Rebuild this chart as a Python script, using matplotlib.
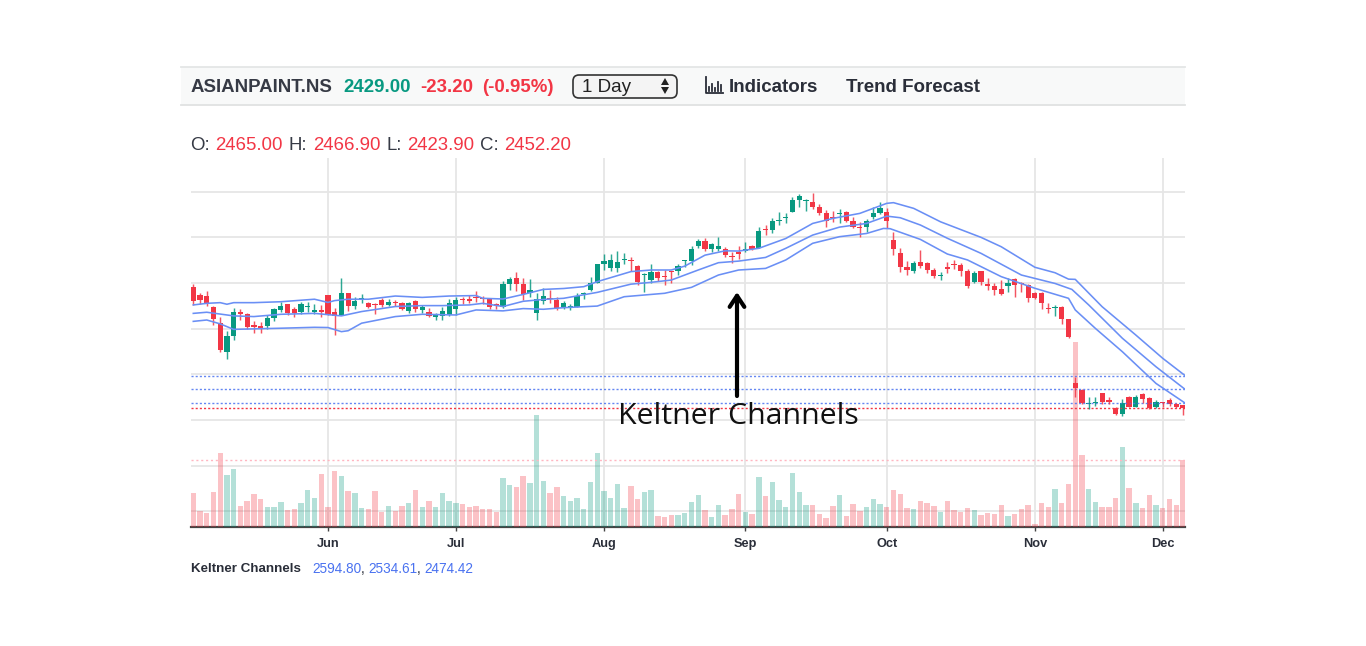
import matplotlib
matplotlib.use("Agg")
import matplotlib.pyplot as plt
from matplotlib.patches import FancyBboxPatch, Polygon, Rectangle

# ---------- data ----------
opens = [2981,2948,2945,2897,2827,2697,2768,2875,2863,2816,2812,2812,2848,2882,2908,2885,2872,2894,2872,2879,
         2948,2875,2860,2958,2899,2929,2911,2907,2926,2904,2918,2914,2879,2923,2882,2872,2853,2857,2860,2885,
         2929,2929,2937,2933,2929,2904,2894,2996,3021,2995,2955,2870,2922,2933,2925,2896,2889,2896,2950,2969,
         3001,3082,3064,3064,3101,3101,3076,3036,3013,3050,3031,3051,3051,3095,3096,3160,3185,3150,3150,3147,
         3118,3134,3141,3160,3152,3236,3232,3271,3286,3309,3363,3360,3356,3331,3308,3290,3301,3312,3273,3247,
         3244,3287,3305,3312,3188,3130,3071,3054,3093,3086,3057,3031,3071,3083,3079,3054,3003,3051,2995,2987,
         2974,2987,3016,3001,2991,2955,2958,2892,2892,2896,2841,2560,2531,2471,2476,2517,2487,2451,2426,2502,
         2458,2512,2498,2455,2477,2487,2470,2465]
highs = [2996,2958,2967,2899,2853,2791,2889,2885,2870,2835,2831,2860,2892,2916,2908,2897,2916,2918,2908,2904,
         2948,2889,3024,2958,2940,2951,2918,2914,2933,2929,2926,2918,2918,2926,2904,2889,2870,2897,2929,2937,
         2937,2948,2967,2943,2933,2911,3010,3025,3047,3020,3016,2955,2977,2969,2940,2922,2908,2958,2962,3028,
         3083,3125,3127,3141,3130,3115,3079,3042,3082,3052,3057,3054,3083,3103,3163,3193,3195,3177,3203,3159,
         3137,3163,3181,3166,3244,3254,3283,3309,3305,3378,3388,3366,3393,3346,3320,3317,3323,3317,3290,3269,
         3279,3331,3353,3327,3225,3152,3098,3098,3144,3093,3064,3050,3093,3101,3086,3060,3052,3054,3020,3001,
         3013,3020,3020,3006,2995,2962,2962,2914,2903,2899,2842,2590,2534,2502,2499,2517,2499,2458,2490,2505,
         2509,2517,2502,2487,2480,2495,2473,2467]
lows = [2904,2908,2901,2816,2699,2667,2751,2838,2797,2783,2783,2799,2834,2872,2860,2853,2863,2875,2864,2853,
        2860,2772,2860,2878,2885,2911,2889,2863,2897,2899,2899,2882,2870,2875,2867,2850,2838,2838,2857,2860,
        2908,2911,2918,2907,2886,2885,2889,2970,2967,2925,2937,2838,2908,2914,2882,2885,2882,2893,2928,2966,
        2998,3057,3054,3050,3083,3054,2990,2962,2998,3009,2991,3001,3035,3071,3079,3152,3141,3137,3141,3112,
        3089,3105,3137,3144,3152,3210,3220,3254,3261,3309,3334,3317,3324,3296,3247,3269,3261,3269,3239,3203,
        3225,3279,3301,3239,3121,3050,3035,3042,3064,3042,3020,3013,3042,3060,3031,2977,2998,2991,2969,2947,
        2947,2959,2937,2962,2915,2928,2885,2867,2855,2820,2760,2499,2470,2449,2461,2470,2470,2422,2417,2455,
        2455,2476,2448,2451,2458,2461,2451,2424]
closes = [2923,2926,2908,2841,2707,2768,2875,2863,2809,2809,2803,2845,2885,2901,2867,2867,2908,2897,2882,2875,
          2860,2857,2958,2899,2923,2933,2897,2904,2904,2918,2914,2886,2914,2885,2894,2856,2856,2879,2914,2926,
          2926,2923,2933,2930,2897,2901,2994,3018,2996,2952,2969,2928,2943,2928,2890,2911,2899,2943,2955,3001,
          3082,3096,3103,3090,3103,3096,3004,3041,3050,3020,3025,3047,3074,3101,3149,3184,3149,3169,3163,3121,
          3114,3128,3149,3149,3229,3232,3273,3276,3290,3363,3381,3363,3331,3308,3273,3285,3305,3273,3247,3242,
          3273,3305,3327,3273,3147,3068,3057,3086,3074,3055,3031,3035,3063,3077,3054,2987,3045,3006,2987,2969,
          2952,2998,2993,2995,2933,2933,2914,2885,2896,2841,2765,2539,2473,2476,2480,2480,2479,2425,2473,2458,
          2502,2490,2451,2477,2474,2468,2455,2452]
volumes = [101,49,41,104,223,156,173,63,79,98,84,60,60,76,50,53,71,111,86,159,
           61,169,153,108,101,57,54,108,46,63,48,64,71,110,59,77,61,103,78,71,
           68,60,62,54,53,46,146,125,120,153,132,337,137,102,121,94,78,87,55,135,
           223,107,86,129,57,122,83,106,110,33,31,35,36,43,75,97,50,31,65,36,
           55,99,46,38,151,94,135,81,60,161,105,67,65,38,27,62,96,34,69,48,
           61,83,70,61,111,99,58,53,78,73,63,46,78,50,45,58,51,36,41,38,
           66,32,39,53,66,9,73,60,114,72,129,555,217,114,76,59,59,87,239,118,
           73,57,96,66,58,85,65,201]

upper_idx = [0,2,4,5,6,9,13,18,20,21,23,26,30,34,38,42,43,46,49,52,55,58,59,60,65,68,71,73,76,79,81,84,88,92,95,
             99,101,103,104,107,111,117,120,125,128,130,131,135,140,144,147.3]
upper_val = [2904,2911,2914,2907,2914,2914,2918,2929,2915,2923,2929,2929,2943,2937,2943,2945,2933,2930,2950,2972,2976,2984,2995,3006,3050,3057,3057,3074,3122,3141,3140,3152,3195,3261,3283,
             3305,3327,3349,3352,3327,3268,3200,3159,3069,3045,3017,3016,2896,2772,2670,2594.8]
mid_idx = [0,2,4,6,9,13,18,22,25,30,34,37,41,43,46,49,52,55,60,65,68,71,75,78,81,85,88,92,96,100,103,105,108,112,117,123,128,130.5,133,138,143,147.3]
mid_val = [2867,2872,2864,2856,2853,2863,2867,2856,2875,2897,2901,2901,2904,2911,2897,2920,2928,2933,2959,2995,3003,3013,3057,3089,3096,3112,3152,3210,3245,3261,3293,3286,3254,3196,3130,3035,2998,2972,2904,2758,2633,2534.61]
lower_idx = [0,2,4,6,13,18,20,22,23,25,30,34,39,42,46,49,52,55,60,64,70,74,78,81,85,88,92,96,100,102.5,103.5,108,112,115,120,125,130,131,134,138,143,147.3]
lower_val = [2832,2838,2821,2797,2802,2806,2805,2787,2791,2824,2853,2863,2860,2882,2878,2888,2885,2892,2899,2940,2955,2981,3035,3057,3064,3101,3174,3203,3217,3239,3238,3191,3127,3101,3028,2977,2933,2882,2801,2699,2560,2474.42]

month_ticks = [20, 39, 61, 82, 103, 125, 144]
month_labels = ["Jun", "Jul", "Aug", "Sep", "Oct", "Nov", "Dec"]
price_grid = [2000, 2200, 2400, 2600, 2800, 3000, 3200, 3400]
channel_last = [2594.80, 2534.61, 2474.42]
last_close = 2452.20
volume_avg = 201

# ---------- styles ----------
W, H = 1366, 646
GREEN, RED, BLUE = "#089981", "#f23645", "#6a8ff5"
GRID = "#e6e6e6"
DARK = "#2a2e39"
SANS = "Liberation Sans"

fig = plt.figure(figsize=(W / 100, H / 100), dpi=100, facecolor="white")
pos = [191 / W, 1 - 527 / H, (1185 - 191) / W, (527 - 158) / H]
xlim = (-0.34, 147.3)
ylim = (1931.3, 3547.6)

def layer(z):
    a = fig.add_axes(pos, zorder=z)
    a.set_xlim(xlim)
    a.patch.set_visible(False)
    a.set_yticks([])
    for s in a.spines.values():
        s.set_visible(False)
    return a

ax_grid = layer(1)
ax_grid.set_ylim(ylim)
for p in price_grid:
    ax_grid.axhline(p, color=GRID, lw=1.3)
for m in month_ticks:
    ax_grid.axvline(m, color=GRID, lw=1.3)
ax_grid.set_xticks(month_ticks, month_labels, fontfamily=SANS, fontsize=9.2, fontweight="bold", color=DARK)
ax_grid.tick_params(axis="x", length=3, width=1, color="#444444", pad=9.5)
for t in ax_grid.get_xticklabels():
    t.set_verticalalignment("center")
ax_grid.spines["bottom"].set_visible(True)
ax_grid.spines["bottom"].set_color("#444444")
ax_grid.spines["bottom"].set_linewidth(1.6)

ax_vol = layer(2)
ax_vol.set_ylim(0, 1107)
ax_vol.set_xticks([])
x = list(range(len(opens)))
vol_colors = [GREEN if c > o else RED for o, c in zip(opens, closes)]
ax_vol.bar(x, volumes, width=0.8, color=vol_colors, alpha=0.3, linewidth=0)
ax_vol.axhline(volume_avg, color="#ffb6c1", lw=1, ls=(0, (1.5, 2)))

ax = layer(3)
ax.set_ylim(ylim)
ax.set_xticks([])
for v in channel_last:
    ax.axhline(v, color="#4a72f0", lw=1, ls=(0, (1.5, 1.5)), alpha=0.85)
ax.axhline(last_close, color=RED, lw=1, ls=(0, (1.5, 1.5)))
ax.vlines(x, lows, highs, colors=vol_colors, lw=1.05, alpha=0.85)
ax.bar(x, [max(abs(c - o), 5) for o, c in zip(opens, closes)],
       bottom=[min(o, c) for o, c in zip(opens, closes)],
       width=0.78, color=vol_colors, linewidth=0)
for ix, val in [(upper_idx, upper_val), (mid_idx, mid_val), (lower_idx, lower_val)]:
    ax.plot(ix, val, color=BLUE, lw=1.15, solid_joinstyle="round")

# ---------- page furniture, in pixel coordinates ----------
ui = fig.add_axes([0, 0, 1, 1], zorder=4)
ui.set_xlim(0, W)
ui.set_ylim(H, 0)
ui.axis("off")
ui.patch.set_visible(False)

ui.add_patch(Rectangle((181, 67), 1004, 38, fc="#f8f9f9", ec="none"))
ui.plot([181, 1185], [67, 67], color="#e4e6e6", lw=1.3)
ui.plot([181, 1185], [105, 105], color="#e0e2e2", lw=1.3)

def label(px, py, s, color=DARK, size=13.4, weight="bold", family=SANS, ha="left"):
    ui.text(px, py, s, color=color, fontsize=size, fontweight=weight, fontfamily=family,
            ha=ha, va="center")

label(191, 88, "ASIANPAINT.NS", "#363a45")
label(343, 88, "2429.00", GREEN)
label(420, 88, "-23.20", RED)
label(482, 88, "(-0.95%)", RED)

ui.add_patch(FancyBboxPatch((573, 75), 104, 23, boxstyle="round,pad=0,rounding_size=6",
                            fc="#f4f4f4", ec="#333333", lw=1.2, mutation_aspect=1))
label(582, 88, "1 Day", "#222222", 13.6, "normal")
ui.add_patch(Polygon([[661, 85], [669, 85], [665, 78]], closed=True, fc="#222222", ec="none"))
ui.add_patch(Polygon([[661, 87], [669, 87], [665, 94]], closed=True, fc="#222222", ec="none"))

ui.plot([705.5, 705.5, 723], [77, 93, 93], color="#2a2e39", lw=1.3)
for bx, top in [(708.5, 87), (711.5, 84), (714.5, 88), (717.5, 82), (720.5, 85)]:
    ui.plot([bx, bx], [top, 91], color="#2a2e39", lw=1.3)
label(729, 88, "Indicators", "#2a2e39", 13.5)
label(846, 88, "Trend Forecast", "#2a2e39", 13.5)

row_y = 145
label(190.5, row_y, "O:", "#363a45", 13.4, "normal")
label(215.5, row_y, "2465.00", RED, 13.4, "normal")
label(289, row_y, "H:", "#363a45", 13.4, "normal")
label(313, row_y, "2466.90", RED, 13.4, "normal")
label(386, row_y, "L:", "#363a45", 13.4, "normal")
label(407, row_y, "2423.90", RED, 13.4, "normal")
label(480, row_y, "C:", "#363a45", 13.4, "normal")
label(504, row_y, "2452.20", RED, 13.4, "normal")

ui.annotate("", xy=(737, 292), xytext=(737, 396),
            arrowprops=dict(arrowstyle="->,head_length=0.5,head_width=0.33", color="black",
                            lw=3, mutation_scale=16, shrinkA=0, shrinkB=0))
label(738, 416, "Keltner Channels", "#111111", 21.8, "normal", "Open Sans", "center")

label(191, 569, "Keltner Channels", "#2a2e39", 9.6)
label(312, 569, "2594.80", "#4a72f0", 9.8, "normal")
label(360.5, 569, ",", DARK, 9.8, "normal")
label(368, 569, "2534.61", "#4a72f0", 9.8, "normal")
label(416.5, 569, ",", DARK, 9.8, "normal")
label(424, 569, "2474.42", "#4a72f0", 9.8, "normal")

fig.savefig("out.png", dpi=100, facecolor="white")
